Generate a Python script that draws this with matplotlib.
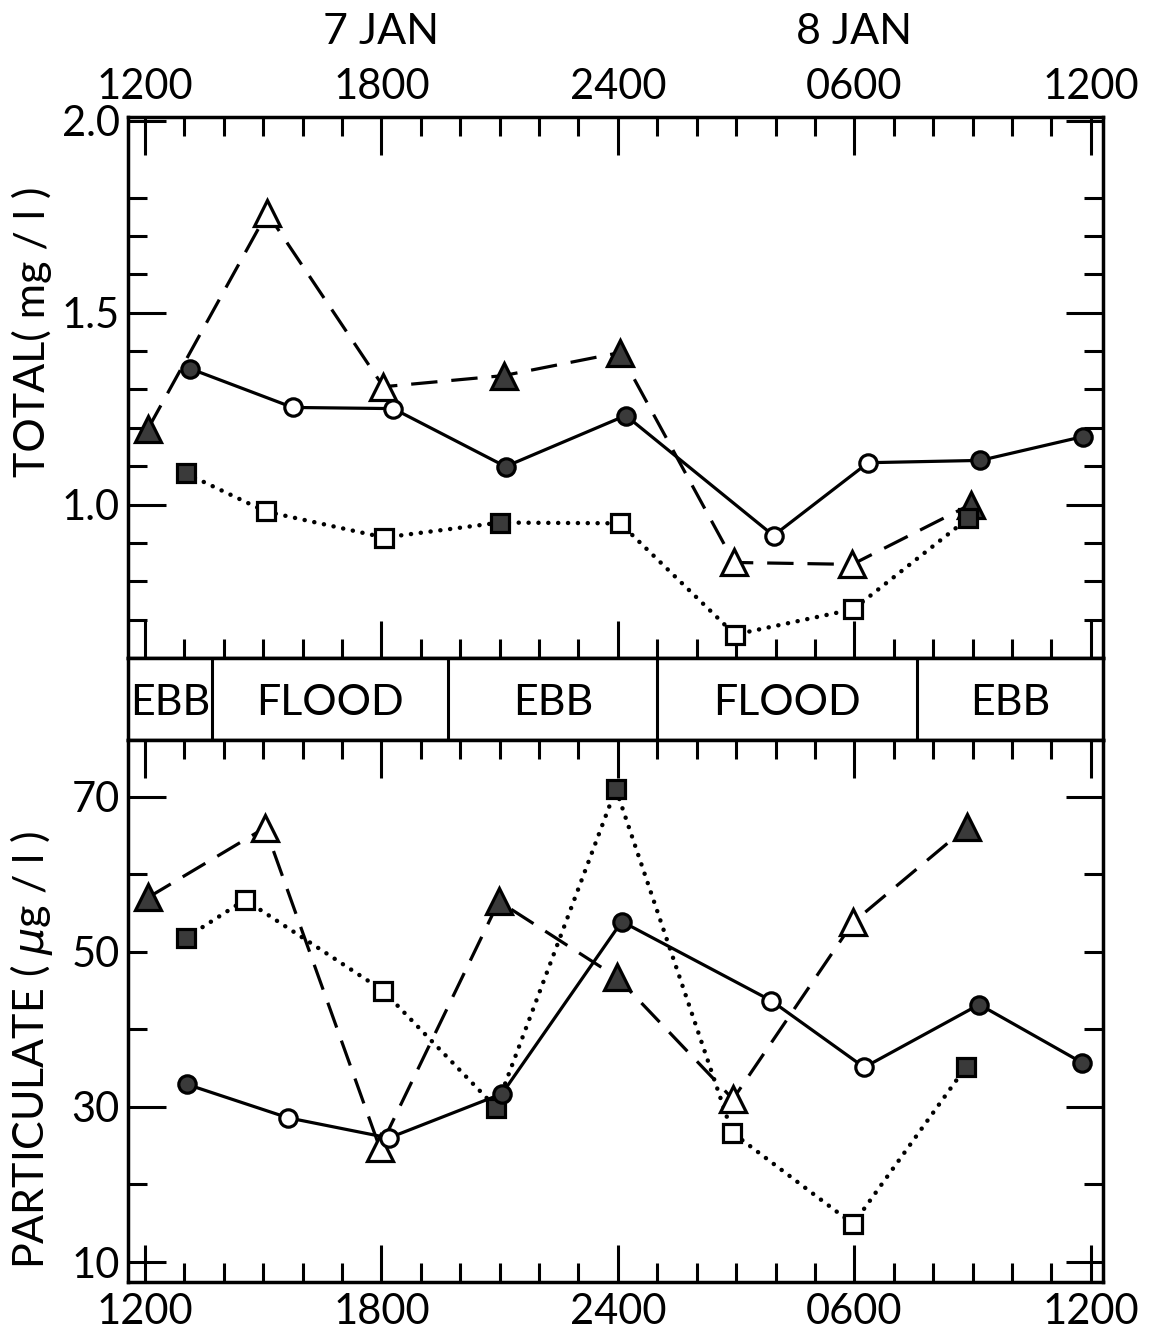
import matplotlib
matplotlib.use("Agg")
import matplotlib.pyplot as plt
import matplotlib.transforms as mtransforms

plt.rcParams['font.family'] = ['Lato', 'DejaVu Sans']
plt.rcParams['lines.scale_dashes'] = False
plt.rcParams['mathtext.fontset'] = 'dejavusans'

# ---------------- data ----------------
# time axis: hours after 1200 on 7 JAN
hour_ticks = [0, 6, 12, 18, 24]
hour_labels = ['1200', '1800', '2400', '0600', '1200']
hour_minor = list(range(0, 25))
date_hours = [6, 18]
date_labels = ['7 JAN', '8 JAN']

tide_labels = ['EBB', 'FLOOD', 'EBB', 'FLOOD', 'EBB']
tide_changes = [1.7, 7.7, 13.0, 19.6]

# TOTAL (mg/l)
tot_circ_t = [1.15, 3.75, 6.3, 9.15, 12.2, 15.95, 18.35, 21.2, 23.8]
tot_circ_v = [1.354, 1.253, 1.25, 1.099, 1.232, 0.919, 1.109, 1.115, 1.177]
tot_circ_f = [1, 0, 0, 1, 1, 0, 0, 1, 1]
tot_tri_t = [0.08, 3.1, 6.05, 9.1, 12.05, 14.95, 17.95, 20.95]
tot_tri_v = [1.198, 1.76, 1.307, 1.336, 1.396, 0.849, 0.844, 1.0]
tot_tri_f = [1, 0, 0, 1, 1, 0, 0, 1]
tot_sq_t = [1.04, 3.06, 6.07, 9.01, 12.06, 14.97, 17.97, 20.89]
tot_sq_v = [1.081, 0.982, 0.914, 0.953, 0.951, 0.661, 0.727, 0.964]
tot_sq_f = [1, 0, 0, 1, 0, 0, 0, 1]
tot_yticks = [1.0, 1.5, 2.0]
tot_yticklabels = ['1.0', '1.5', '2.0']
tot_yminor = [0.7, 0.8, 0.9, 1.1, 1.2, 1.3, 1.4, 1.6, 1.7, 1.8]

# PARTICULATE (ug/l)
par_circ_t = [1.07, 3.63, 6.19, 9.06, 12.1, 15.89, 18.25, 21.17, 23.78]
par_circ_v = [32.9, 28.6, 26.0, 31.7, 53.9, 43.7, 35.1, 43.2, 35.7]
par_circ_f = [1, 0, 0, 1, 1, 0, 0, 1, 1]
par_tri_t = [0.08, 3.05, 5.96, 8.98, 11.98, 14.92, 17.97, 20.86]
par_tri_v = [57.0, 66.0, 24.7, 56.5, 46.7, 31.0, 53.8, 66.1]
par_tri_f = [1, 0, 0, 1, 1, 0, 0, 1]
par_sq_t = [1.04, 2.54, 6.04, 8.91, 11.95, 14.9, 17.97, 20.84]
par_sq_v = [51.8, 56.7, 45.0, 29.9, 71.0, 26.7, 14.9, 35.2]
par_sq_f = [1, 0, 0, 1, 1, 0, 0, 1]
par_yticks = [10, 30, 50, 70]
par_yticklabels = ['10', '30', '50', '70']
par_yminor = [20, 40, 60]

# ---------------- figure ----------------
W, H = 1164, 1337
fig = plt.figure(figsize=(W / 100, H / 100), dpi=100)


def rect(x0, y0, x1, y1):
    return [x0 / W, 1 - y1 / H, (x1 - x0) / W, (y1 - y0) / H]


ax1 = fig.add_axes(rect(128, 117, 1103, 658))
axb = fig.add_axes(rect(128, 658, 1103, 740))
ax2 = fig.add_axes(rect(128, 740, 1103, 1282))

XLIM = (-0.43, 24.31)
FILL = '#3a3a3a'
TICKFS = 30


def series(ax, t, v, f, marker, ms, ls):
    ln, = ax.plot(t, v, color='black', lw=2.3, zorder=2,
                  dash_capstyle='round' if ls == 'dot' else 'butt')
    if ls == 'dash':
        ln.set_linestyle((0, (19, 10)))
    elif ls == 'dot':
        ln.set_linestyle((0, (0.1, 7.0)))
        ln.set_linewidth(3.2)
    for ti, vi, fi in zip(t, v, f):
        ax.plot([ti], [vi], marker=marker, ms=ms, ls='none',
                mfc=FILL if fi else 'white', mec='black', mew=2.3, zorder=3)


def style(ax, ylim, yt, ytl, ymin):
    ax.set_xlim(*XLIM)
    ax.set_ylim(*ylim)
    ax.set_xticks(hour_ticks)
    ax.set_xticklabels(hour_labels)
    ax.set_xticks(hour_minor, minor=True)
    ax.set_yticks(yt)
    ax.set_yticklabels(ytl)
    ax.set_yticks(ymin, minor=True)
    for s in ax.spines.values():
        s.set_linewidth(2.5)
    ax.tick_params(which='both', direction='in', top=True, right=True,
                   width=2.2, color='black', labelsize=TICKFS)
    ax.tick_params(which='major', length=27)
    ax.tick_params(which='minor', length=14)
    ax.tick_params(axis='y', pad=6)


# top panel
series(ax1, tot_tri_t, tot_tri_v, tot_tri_f, '^', 18.5, 'dash')
series(ax1, tot_sq_t, tot_sq_v, tot_sq_f, 's', 12.5, 'dot')
series(ax1, tot_circ_t, tot_circ_v, tot_circ_f, 'o', 12.5, 'solid')
style(ax1, (0.6, 2.01), tot_yticks, tot_yticklabels, tot_yminor)
ax1.tick_params(axis='x', labeltop=True, labelbottom=False, pad=8)

# bottom panel
series(ax2, par_tri_t, par_tri_v, par_tri_f, '^', 18.5, 'dash')
series(ax2, par_sq_t, par_sq_v, par_sq_f, 's', 12.5, 'dot')
series(ax2, par_circ_t, par_circ_v, par_circ_f, 'o', 12.5, 'solid')
style(ax2, (7.43, 77.3), par_yticks, par_yticklabels, par_yminor)
ax2.tick_params(axis='x', labeltop=False, labelbottom=True, pad=8)
# the 50 tick is drawn short in the original
t50 = ax2.yaxis.get_major_ticks()[par_yticks.index(50)]
t50.tick1line.set_markersize(14)
t50.tick2line.set_markersize(14)

# tide band
axb.set_xlim(*XLIM)
axb.set_ylim(0, 1)
axb.set_xticks([])
axb.set_yticks([])
for s in axb.spines.values():
    s.set_linewidth(2.5)
bounds = [XLIM[0]] + tide_changes + [XLIM[1]]
for xc in tide_changes:
    axb.axvline(xc, color='black', lw=2.2)
for i, lab in enumerate(tide_labels):
    axb.text((bounds[i] + bounds[i + 1]) / 2, 0.45, lab, ha='center',
             va='center', fontsize=31)

# date labels above the top axis
trans = mtransforms.blended_transform_factory(ax1.transData, fig.transFigure)
for h, lab in zip(date_hours, date_labels):
    ax1.text(h, 1 - 32 / H, lab, transform=trans, ha='center', va='center',
             fontsize=31)

# y-axis titles
fig.text(32 / W, 1 - 332 / H, 'TOTAL( mg / l )', rotation=90, ha='center',
         va='center', fontsize=31)
fig.text(32 / W, 1 - 1050 / H, r'PARTICULATE ( $\mu$g / l )', rotation=90,
         ha='center', va='center', fontsize=31)

fig.savefig('out.png', dpi=100, facecolor='white')
